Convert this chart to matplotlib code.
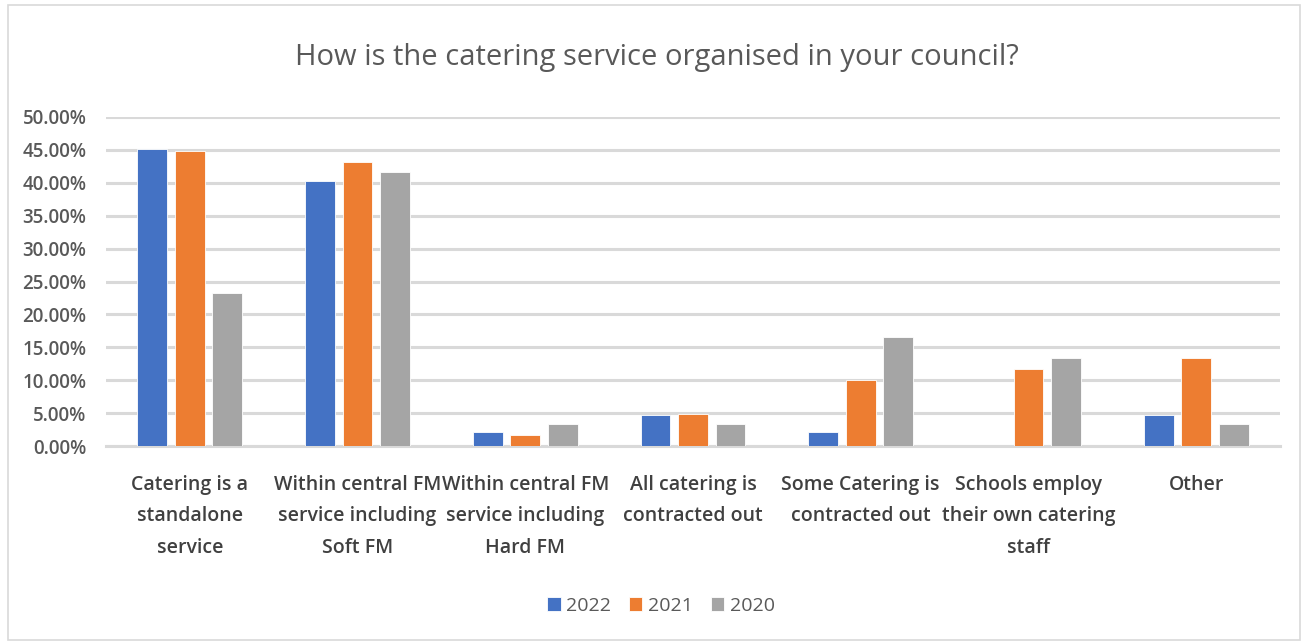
import matplotlib
matplotlib.use("Agg")
import matplotlib.pyplot as plt
import numpy as np
from matplotlib.patches import Rectangle

categories = ["Catering is a\nstandalone\nservice",
              "Within central FM\nservice including\nSoft FM",
              "Within central FM\nservice including\nHard FM",
              "All catering is\ncontracted out",
              "Some Catering is\ncontracted out",
              "Schools employ\ntheir own catering\nstaff",
              "Other"]
series_names = ["2022", "2021", "2020"]
v2022 = [45.16, 40.32, 2.20, 4.67, 2.20, 0.0, 4.67]
v2021 = [44.83, 43.10, 1.60, 4.86, 10.10, 11.65, 13.40]
v2020 = [23.25, 41.60, 3.30, 3.30, 16.50, 13.40, 3.30]
colors = ["#4472C4", "#ED7D31", "#A5A5A5"]
yticks = [0, 5, 10, 15, 20, 25, 30, 35, 40, 45, 50]

plt.rcParams['font.family'] = ['Open Sans', 'DejaVu Sans']
fig = plt.figure(figsize=(13.09, 6.43), dpi=100)
W, H = 1309, 643
ax = fig.add_axes([106 / W, 1 - 446 / H, (1280 - 106) / W, (446 - 117) / H])

x = np.arange(len(categories))
bw = 0.178
step = 0.224
for i, (vals, c, name) in enumerate(zip([v2022, v2021, v2020], colors, series_names)):
    ax.bar(x + (i - 1) * step, vals, bw, color=c, label=name, zorder=3,
           edgecolor="white", linewidth=0.6)

ax.set_xlim(-0.5, len(categories) - 0.5)
ax.set_ylim(0, 50)
ax.set_yticks(yticks)
ax.set_yticklabels([f"{t:.2f}%" for t in yticks], fontsize=13.5, color="#595959", fontweight="semibold")
ax.yaxis.grid(True, color="#D9D9D9", linewidth=2.2, zorder=0)
ax.set_axisbelow(True)
ax.tick_params(axis="y", length=0, pad=14)
ax.tick_params(axis="x", length=0, pad=21)
ax.set_xticks(x)
ax.set_xticklabels(categories, fontsize=14, color="#404040", linespacing=1.75, va="top",
                   fontweight="semibold")
for s in ["top", "right", "left"]:
    ax.spines[s].set_visible(False)
ax.spines["bottom"].set_color("#D9D9D9")
ax.spines["bottom"].set_linewidth(2.2)

fig.text(657 / W, 1 - 57 / H, "How is the catering service organised in your council?",
         ha="center", va="center", fontsize=21, color="#595959")

leg = fig.legend(loc="center", bbox_to_anchor=(661 / W, 1 - 606 / H), ncol=3, frameon=False,
                 fontsize=14, handlelength=0.7, handleheight=0.7, handletextpad=0.3,
                 columnspacing=0.9)
for t in leg.get_texts():
    t.set_color("#595959")

fig.patches.append(Rectangle((8 / W, 3 / H), (1300 - 8) / W, (638 - 3) / H,
                             transform=fig.transFigure, fill=False,
                             edgecolor="#D9D9D9", linewidth=1.2))

fig.savefig("out.png", dpi=100)
